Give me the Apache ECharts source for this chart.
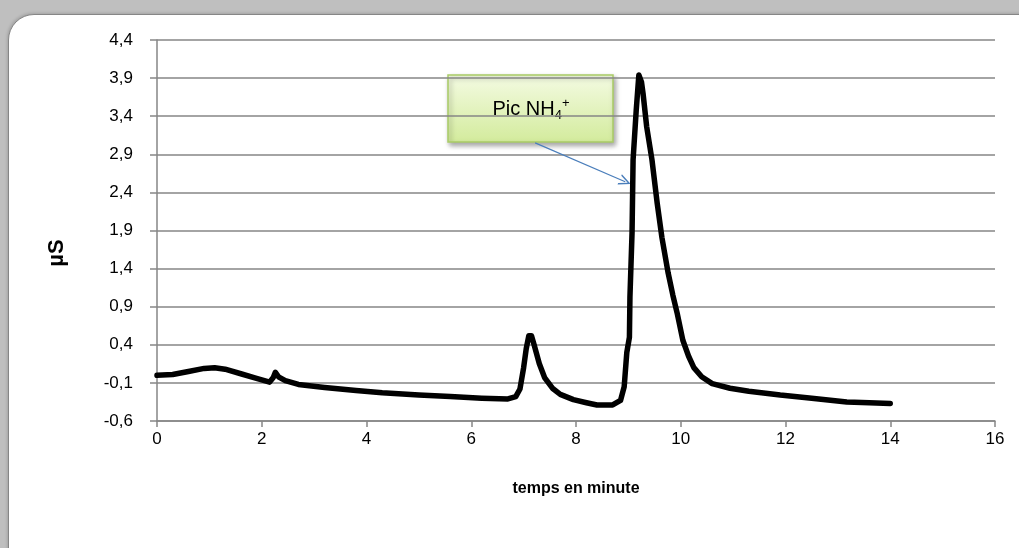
<!DOCTYPE html>
<html>
<head>
<meta charset="utf-8">
<script src="https://cdn.jsdelivr.net/npm/echarts@6/dist/echarts.min.js"></script>
<style>
  html, body { margin: 0; padding: 0; width: 1019px; height: 548px; overflow: hidden; }
  body { background: #bfbfbf; position: relative; }
  #panel { position: absolute; left: 8px; top: 14px; width: 1040px; height: 570px; background: #fff;
           border: 1.5px solid #868686; border-radius: 26px; box-shadow: -1px -1px 3px rgba(0,0,0,0.15); }
  #chart { position: absolute; left: 0; top: 0; width: 1019px; height: 548px; }
</style>
</head>
<body>
<div id="panel"></div>
<div id="chart"></div>
<script>
// time (minutes)
const times = [0, 0.3, 0.6, 0.9, 1.1, 1.3, 1.6, 1.9, 2.15, 2.22, 2.26, 2.32, 2.45, 2.7, 3.2, 3.8, 4.3, 5.0, 5.6, 6.2, 6.7, 6.85, 6.93, 7.0, 7.05, 7.1, 7.15, 7.2, 7.3, 7.4, 7.55, 7.7, 7.95, 8.2, 8.4, 8.7, 8.85, 8.92, 8.97, 9.02, 9.03, 9.07, 9.09, 9.15, 9.2, 9.25, 9.28, 9.35, 9.45, 9.55, 9.64, 9.76, 9.85, 9.93, 10.04, 10.15, 10.25, 10.4, 10.6, 10.94, 11.3, 11.9, 12.5, 13.17, 13.6, 14.0];
// conductivity (µS)
const conductivity = [0.0, 0.01, 0.05, 0.09, 0.10, 0.08, 0.02, -0.04, -0.09, -0.03, 0.04, -0.02, -0.07, -0.12, -0.16, -0.20, -0.23, -0.26, -0.28, -0.30, -0.31, -0.28, -0.18, 0.10, 0.35, 0.52, 0.52, 0.40, 0.15, -0.03, -0.17, -0.25, -0.32, -0.36, -0.39, -0.39, -0.33, -0.15, 0.30, 0.50, 1.03, 1.87, 2.83, 3.48, 3.94, 3.85, 3.70, 3.26, 2.83, 2.26, 1.81, 1.34, 1.05, 0.82, 0.46, 0.25, 0.10, -0.02, -0.11, -0.17, -0.21, -0.26, -0.30, -0.35, -0.36, -0.37];
// y tick labels: -0.6 .. 4.4 step 0.5
const yMin = -0.6, yMax = 4.4, yStep = 0.5;
const xMin = 0, xMax = 16, xStep = 2;
// annotation arrow (data units): from box to peak
const arrowFrom = [7.22, 3.05];
const arrowTo = [8.94, 2.54];

// ECharts counts ticks from multiples of interval: shift the plotted scale so ticks land on -0.6, -0.1, ...
const OFFSET = -0.5 - yMin; // 0.1
const seriesData = times.map((t, i) => [t, conductivity[i] + OFFSET]);

const chart = echarts.init(document.getElementById('chart'), null, { renderer: 'canvas' });
const FONT = "'Liberation Sans', 'DejaVu Sans', sans-serif";
chart.setOption({
  animation: false,
  backgroundColor: 'transparent',
  grid: { left: 157, right: 24, top: 40, bottom: 127, containLabel: false },
  xAxis: {
    type: 'value', min: xMin, max: xMax, interval: xStep,
    name: 'temps en minute', nameLocation: 'middle', nameGap: 60,
    nameTextStyle: { fontFamily: FONT, fontWeight: 'bold', fontSize: 16, color: '#000' },
    axisLine: { show: true, onZero: false, lineStyle: { color: '#868686', width: 1.5 } },
    axisTick: { show: true, length: 6, inside: false, lineStyle: { color: '#868686', width: 1.5 } },
    axisLabel: { margin: 10, fontFamily: FONT, fontSize: 17, color: '#000' },
    splitLine: { show: false }
  },
  yAxis: {
    type: 'value', min: yMin + OFFSET, max: yMax + OFFSET, interval: yStep,
    axisLine: { show: true, lineStyle: { color: '#868686', width: 1.5 } },
    axisTick: { show: true, length: 7, lineStyle: { color: '#868686', width: 1.5 } },
    axisLabel: {
      margin: 24, fontFamily: FONT, fontSize: 17, color: '#000',
      formatter: v => (v - OFFSET).toFixed(1).replace('.', ',')
    },
    splitLine: { show: true, lineStyle: { color: '#868686', width: 1.5 } }
  },
  series: [{
    type: 'line',
    data: seriesData,
    showSymbol: false,
    symbol: 'none',
    smooth: false,
    lineStyle: { color: '#000', width: 5.5, join: 'round', cap: 'round' },
    z: 5,
    markLine: {
      silent: true,
      symbol: ['none', 'path://M0,10 L5,0 L10,10 L8.6,10 L5,2.8 L1.4,10 Z'],
      symbolSize: [11, 12],
      label: { show: false },
      lineStyle: { color: '#4a7ebb', width: 1.2, type: 'solid' },
      data: [[
        { coord: [arrowFrom[0], arrowFrom[1] + OFFSET] },
        { coord: [arrowTo[0], arrowTo[1] + OFFSET] }
      ]]
    }
  }],
  graphic: [
    {
      type: 'text', x: 57, y: 253, rotation: Math.PI / 2,
      style: { text: 'µS', fontFamily: FONT, fontWeight: 'bold', fontSize: 22, fill: '#000', align: 'center', verticalAlign: 'middle' }
    },
    {
      type: 'group', x: 448, y: 75, z: 10,
      children: [
        {
          type: 'rect', shape: { x: 0, y: 0, width: 165, height: 67 },
          style: {
            fill: new echarts.graphic.LinearGradient(0, 0, 0, 1, [
              { offset: 0, color: '#f4fbe3' }, { offset: 1, color: '#d3eb9c' }
            ]),
            stroke: '#a9cb66', lineWidth: 1.5,
            shadowBlur: 5, shadowOffsetX: 2, shadowOffsetY: 3, shadowColor: 'rgba(0,0,0,0.35)'
          }
        },
        {
          type: 'text', x: 83, y: 34,
          style: {
            text: '{a|Pic NH}{b|4}{c|+}',
            align: 'center', verticalAlign: 'middle',
            rich: {
              a: { fontFamily: FONT, fontSize: 20, color: '#000', lineHeight: 30, verticalAlign: 'middle' },
              b: { fontFamily: FONT, fontSize: 13, color: '#000', lineHeight: 30, verticalAlign: 'bottom', padding: [0, 0, 2, 0] },
              c: { fontFamily: FONT, fontSize: 13, color: '#000', lineHeight: 30, verticalAlign: 'top', padding: [3, 0, 0, 0] }
            }
          }
        }
      ]
    }
  ]
});
</script>
</body>
</html>
